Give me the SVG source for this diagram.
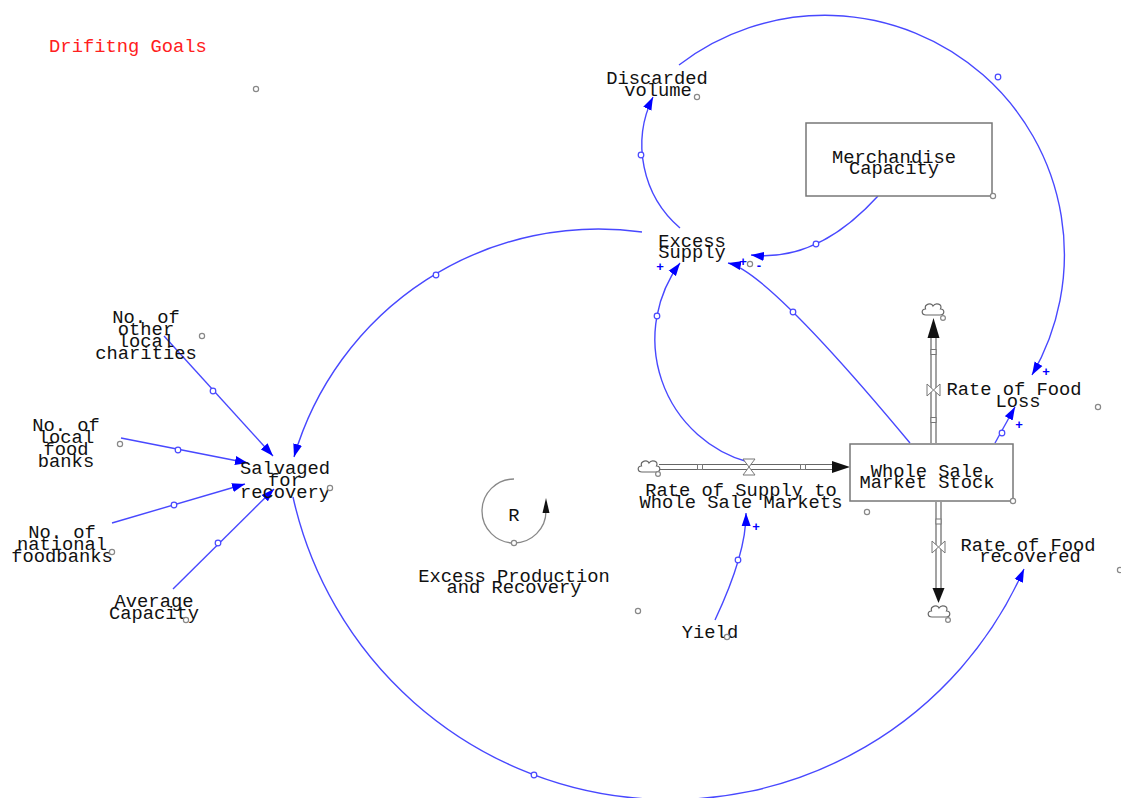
<svg xmlns="http://www.w3.org/2000/svg" width="1121" height="798" viewBox="0 0 1121 798">
<style>
text{font-family:"Liberation Mono","Courier New",monospace;font-size:18.8px;fill:#111;text-anchor:middle}
.pol{font-family:"Liberation Sans",Arial,sans-serif;font-size:13px;fill:#0000ff;font-weight:bold}
.red{fill:#ff2020}
.lk{fill:none;stroke:#4848ff;stroke-width:1.4;marker-end:url(#ah)}
.hc{fill:#fff;stroke:#4848ff;stroke-width:1.2}
.gc{fill:#fff;stroke:#888;stroke-width:1.2}
.box{fill:#fff;stroke:#777;stroke-width:1.5}
.pipe{stroke:#666;stroke-width:1.2;fill:none}
.sq{fill:#fff;stroke:#777;stroke-width:1}
.valve{fill:#fff;stroke:#777;stroke-width:1}
.cloud{fill:#fff;stroke:#666;stroke-width:1.2}
</style>
<defs>
<marker id="ah" markerUnits="userSpaceOnUse" markerWidth="14" markerHeight="10" refX="13" refY="5" orient="auto">
<path d="M0,0.5 L13,5 L0,9.5 z" fill="#0000ff"/>
</marker>
<path id="cl" d="M-7,5 C-12,5 -12,-1 -7.5,-1 C-9,-6 -1.5,-8 0,-4 C2.5,-8 10,-6 7.5,-1 C12,-1 12,5 7,5 Z"/>
</defs>
<rect width="1121" height="798" fill="#fff"/>

<g id="connectors">
<path class="lk" d="M680,228 A109.3,109.3 0 0,1 653,97"/>
<path class="lk" d="M679,65 A239.4,239.4 0 0,1 1032,375"/>
<path class="lk" d="M878,196 Q817.5,262.5 751,255"/>
<path class="lk" d="M642,232 A317.4,317.4 0 0,0 294,457"/>
<path class="lk" d="M910,443 Q767,271 728,263"/>
<path class="lk" d="M748,462 A127.7,127.7 0 0,1 680,263"/>
<path class="lk" d="M995,443 L1015,407"/>
<path class="lk" d="M293,497 A386.5,386.5 0 0,0 1024,569"/>
<path class="lk" d="M164,336 L273,456"/>
<path class="lk" d="M121,438 L248,463"/>
<path class="lk" d="M112,523 L245,484"/>
<path class="lk" d="M173,589 L274,489"/>
<path class="lk" d="M715,620 Q746.5,553 746,513"/>
<circle class="hc" cx="641" cy="155" r="2.8"/>
<circle class="hc" cx="998" cy="77" r="2.8"/>
<circle class="hc" cx="816" cy="244" r="2.8"/>
<circle class="hc" cx="436" cy="275" r="2.8"/>
<circle class="hc" cx="793" cy="312" r="2.8"/>
<circle class="hc" cx="657" cy="316" r="2.8"/>
<circle class="hc" cx="1002" cy="433" r="2.8"/>
<circle class="hc" cx="534" cy="775" r="2.8"/>
<circle class="hc" cx="213" cy="391" r="2.8"/>
<circle class="hc" cx="178" cy="450" r="2.8"/>
<circle class="hc" cx="174" cy="505" r="2.8"/>
<circle class="hc" cx="218" cy="543" r="2.8"/>
<circle class="hc" cx="738" cy="560" r="2.8"/>
<text class="pol" x="660" y="271">+</text>
<text class="pol" x="743" y="266">+</text>
<text class="pol" x="759" y="270">-</text>
<text class="pol" x="1046" y="376">+</text>
<text class="pol" x="1019" y="429">+</text>
<text class="pol" x="756" y="531">+</text>
</g>

<g id="drifting-goals">
<text class="red" x="128" y="52">Drifitng Goals</text>
<circle class="gc" cx="256" cy="89" r="2.6"/>
</g>

<g id="discarded-volume">
<text x="657" y="84">Discarded</text>
<text x="658" y="96">volume</text>
<circle class="gc" cx="697" cy="97" r="2.6"/>
</g>

<g id="merchandise-capacity">
<rect class="box" x="806" y="123" width="186" height="73"/>
<text x="894" y="163">Merchandise</text>
<text x="894" y="174">Capacity</text>
<circle class="gc" cx="993" cy="196" r="2.6"/>
</g>

<g id="excess-supply">
<text x="692" y="247">Excess</text>
<text x="692" y="258">Supply</text>
<circle class="gc" cx="750" cy="264" r="2.6"/>
</g>

<g id="no-other-local-charities">
<text x="146" y="323">No. of</text>
<text x="146" y="335">other</text>
<text x="146" y="347">local</text>
<text x="146" y="359">charities</text>
<circle class="gc" cx="202" cy="336" r="2.6"/>
</g>

<g id="no-local-food-banks">
<text x="66" y="431">No. of</text>
<text x="66" y="443">local</text>
<text x="66" y="455">food</text>
<text x="66" y="467">banks</text>
<circle class="gc" cx="120" cy="444" r="2.6"/>
</g>

<g id="salvaged-for-recovery">
<text x="285" y="474">Salvaged</text>
<text x="285" y="486">for</text>
<text x="285" y="498">recovery</text>
<circle class="gc" cx="330" cy="488" r="2.6"/>
</g>

<g id="no-national-foodbanks">
<text x="62" y="538">No. of</text>
<text x="62" y="550">national</text>
<text x="62" y="562">foodbanks</text>
<circle class="gc" cx="112" cy="552" r="2.6"/>
</g>

<g id="average-capacity">
<text x="154" y="607">Average</text>
<text x="154" y="619">Capacity</text>
<circle class="gc" cx="186" cy="620" r="2.6"/>
</g>

<g id="loop-r">
<path d="M514,479 A32,32 0 1,0 546,511" fill="none" stroke="#888" stroke-width="1.3"/>
<path d="M542.5,513 L549.5,513 L546,498 z" fill="#111"/>
<circle class="gc" cx="514" cy="543" r="2.6"/>
<text x="514" y="521">R</text>
<text x="514" y="582">Excess Production</text>
<text x="514" y="593">and Recovery</text>
<circle class="gc" cx="638" cy="611" r="2.6"/>
</g>

<g id="yield">
<text x="710" y="638">Yield</text>
<circle class="gc" cx="727" cy="637" r="2.6"/>
</g>

<g id="rate-of-supply">
<line class="pipe" x1="659" y1="464.5" x2="834" y2="464.5"/>
<line class="pipe" x1="659" y1="469.5" x2="834" y2="469.5"/>
<path d="M832,461 L832,473 L850,467 z" fill="#111"/>
<use href="#cl" x="649" y="467" class="cloud"/>
<circle class="gc" cx="658" cy="474" r="2.4"/>
<rect class="sq" x="697.5" y="464.5" width="5" height="5"/>
<rect class="sq" x="800.5" y="464.5" width="5" height="5"/>
<path class="valve" d="M743,459 L755,459 L749,467 z M743,475 L755,475 L749,467 z"/>
<text x="741" y="496">Rate of Supply to</text>
<text x="741" y="508">Whole Sale Markets</text>
</g>

<g id="whole-sale-market-stock">
<rect class="box" x="850" y="444" width="163" height="57"/>
<text x="927" y="477">Whole Sale</text>
<text x="927" y="488">Market Stock</text>
<circle class="gc" cx="1013" cy="501" r="2.6"/>
<circle class="gc" cx="867" cy="512" r="2.6"/>
</g>

<g id="rate-of-food-loss">
<line class="pipe" x1="931" y1="443" x2="931" y2="337"/>
<line class="pipe" x1="936" y1="443" x2="936" y2="337"/>
<path d="M927.5,338 L939.5,338 L933.5,318 z" fill="#111"/>
<use href="#cl" x="933" y="310" class="cloud"/>
<circle class="gc" cx="943" cy="318" r="2.4"/>
<rect class="sq" x="931" y="349.5" width="5" height="5"/>
<rect class="sq" x="931" y="417.5" width="5" height="5"/>
<path class="valve" d="M927,384 L927,396 L933.5,390 z M940,384 L940,396 L933.5,390 z"/>
<text x="1014" y="395">Rate of Food</text>
<text x="1018" y="407">Loss</text>
<circle class="gc" cx="1098" cy="407" r="2.6"/>
</g>

<g id="rate-of-food-recovered">
<line class="pipe" x1="936" y1="502" x2="936" y2="589"/>
<line class="pipe" x1="941" y1="502" x2="941" y2="589"/>
<path d="M932.5,588 L944.5,588 L938.5,603 z" fill="#111"/>
<use href="#cl" x="939" y="612" class="cloud"/>
<circle class="gc" cx="948" cy="620" r="2.4"/>
<rect class="sq" x="936" y="519" width="5" height="5"/>
<path class="valve" d="M932,541 L932,553 L938.5,547 z M945,541 L945,553 L938.5,547 z"/>
<text x="1028" y="551">Rate of Food</text>
<text x="1030" y="562">recovered</text>
<circle class="gc" cx="1120" cy="570" r="2.6"/>
</g>
</svg>
